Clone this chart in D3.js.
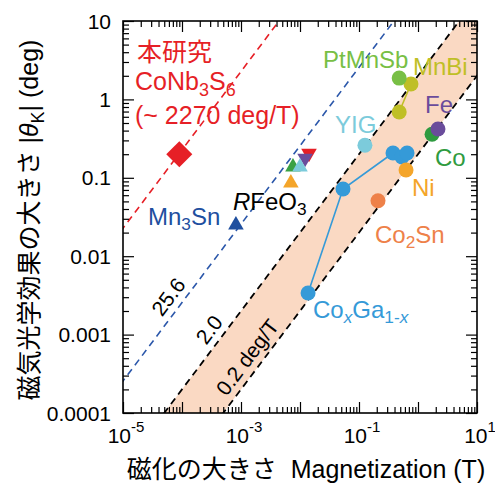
<!DOCTYPE html>
<html><head><meta charset="utf-8">
<script src="https://cdn.jsdelivr.net/npm/d3@7"></script>
<style>
body{margin:0;background:#fff}
svg{display:block}
text{font-family:"Liberation Sans","Noto Sans CJK JP",Arial,sans-serif}
</style>
</head><body>
<svg id="c" width="495" height="491"></svg>
<script>
// ---------- data ----------
const xDomain = [1e-5, 10];          // Magnetization (T)
const yDomain = [1e-4, 10];          // |theta_K| (deg)
const xTickExponents = ["-5", "-3", "-1", "1"];
const xTickLabelValues = [1e-5, 1e-3, 1e-1, 10];
const yTickValues = [1e-4, 1e-3, 1e-2, 1e-1, 1, 10];
const yTickLabels = ["0.0001", "0.001", "0.01", "0.1", "1", "10"];
const ratios = [2270, 25.6, 2.0, 0.2];       // deg/T guide lines
const bandRatios = [0.2, 2.0];
const ratioLabels = ["25.6", "2.0", "0.2 deg/T"];
const ratioLabelRatio = [25.6, 2.0, 0.2];
const ratioLabelM = [9.2e-5, 4.5e-4, 2.0e-3];

const conb3s6 = [[9e-5, 0.2]];
const ptmnsb = [[0.48, 1.87]];
const mnbi = [[0.76, 1.57], [0.48, 0.69]];
const fe = [[2.18, 0.42]];
const co = [[1.73, 0.36]];
const yig = [[0.126, 0.26]];
const coga = [[0.0137, 0.0034], [0.0536, 0.072], [0.377, 0.207], [0.536, 0.184], [0.652, 0.207]];
const ni = [[0.627, 0.126]];
const co2sn = [[0.21, 0.051]];
const rfeo3Red = [[0.0142, 0.205]];
const rfeo3Purple = [[0.0122, 0.178]];
const rfeo3Green = [[0.0076, 0.137]];
const rfeo3Cyan = [[0.0100, 0.137]];
const rfeo3Orange = [[0.0070, 0.086]];
const mn3sn = [[8.2e-4, 0.025]];

// ---------- layout ----------
const L = 123, R = 477, T = 21, B = 413;
const svg = d3.select("#c");
const x = d3.scaleLog().domain(xDomain).range([L, R]);
const y = d3.scaleLog().domain(yDomain).range([B, T]);

const C = {
  red: "#e61f26", navy: "#1f4f9f", blueLine: "#2b57aa",
  ptmnsb: "#78bf45", mnbi: "#bfbf26", fe: "#6a4c9b", co: "#2f9b40",
  yig: "#7ccbdb", coga: "#359ad8", ni: "#f4a52a", co2sn: "#ee8149",
  green: "#3aa144", band: "#fad9c3"
};

svg.append("defs").append("clipPath").attr("id", "pc")
  .append("rect").attr("x", L).attr("y", T).attr("width", R - L).attr("height", B - T);
const plot = svg.append("g").attr("clip-path", "url(#pc)");

// band
const mLo = 1e-7, mHi = 1e3;
const bandPts = [[mLo, bandRatios[0] * mLo], [mHi, bandRatios[0] * mHi], [mHi, bandRatios[1] * mHi], [mLo, bandRatios[1] * mLo]];
plot.append("path").attr("d", d3.line().x(d => x(d[0])).y(d => y(d[1]))(bandPts) + "Z")
  .attr("fill", C.band);

// ratio lines
const lineStyles = [
  {c: C.red, w: 1.6, dash: "7,5"},
  {c: C.blueLine, w: 1.6, dash: "7,5"},
  {c: "#000", w: 1.8, dash: "7,5"},
  {c: "#000", w: 1.8, dash: "7,5"}
];
ratios.forEach((k, i) => {
  const s = lineStyles[i];
  plot.append("path")
    .attr("d", d3.line().x(d => x(d)).y(d => y(k * d))([mLo, mHi]))
    .attr("stroke", s.c).attr("stroke-width", s.w).attr("stroke-dasharray", s.dash).attr("fill", "none");
});

// ---------- axes ticks (inward) ----------
const isMajor = v => Math.abs(Math.log10(v) - Math.round(Math.log10(v))) < 1e-6;
const xt = x.ticks(), yt = y.ticks();
const xMaj = xt.filter(isMajor), xMin = xt.filter(v => !isMajor(v));
const yMaj = yt.filter(isMajor), yMin = yt.filter(v => !isMajor(v));
const MAJ = 11, MIN = 6;
function addAxis(gen, tx, ty, vals, size) {
  const g = svg.append("g").attr("transform", `translate(${tx},${ty})`)
    .call(gen.tickValues(vals).tickSize(-size).tickFormat(""));
  g.select(".domain").remove();
  g.selectAll("line").attr("stroke", "#000").attr("stroke-width", 1.2);
}
[[xMaj, MAJ], [xMin, MIN]].forEach(([v, s]) => {
  addAxis(d3.axisBottom(x), 0, B, v, s);
  addAxis(d3.axisTop(x), 0, T, v, s);
});
[[yMaj, MAJ], [yMin, MIN]].forEach(([v, s]) => {
  addAxis(d3.axisLeft(y), L, 0, v, s);
  addAxis(d3.axisRight(y), R, 0, v, s);
});
svg.append("rect").attr("x", L).attr("y", T).attr("width", R - L).attr("height", B - T)
  .attr("fill", "none").attr("stroke", "#000").attr("stroke-width", 1.6);

// tick labels
yTickValues.forEach((v, i) => {
  svg.append("text").attr("x", 111).attr("y", y(v) + 7.5).attr("text-anchor", "end")
    .attr("font-size", 21).attr("fill", "#000").text(yTickLabels[i]);
});
xTickLabelValues.forEach((v, i) => {
  const t = svg.append("text").attr("x", x(v) + 3).attr("y", 443).attr("text-anchor", "middle")
    .attr("font-size", 21).attr("fill", "#000");
  t.append("tspan").text("10");
  t.append("tspan").attr("dy", -11).attr("font-size", 15).text(xTickExponents[i]);
});

// ---------- rich text helper ----------
function rich(parent, px, py, segs, size, color, anchor) {
  const t = parent.append("text").attr("x", px).attr("y", py).attr("font-size", size)
    .attr("fill", color).attr("text-anchor", anchor || "start");
  let shift = 0;
  segs.forEach(s => {
    const [txt, kind] = typeof s === "string" ? [s, "n"] : s;
    const sp = t.append("tspan").text(txt);
    let target = 0;
    if (kind.includes("b")) { target = size * 0.22; sp.attr("font-size", size * 0.72); }
    if (kind.includes("i")) sp.attr("font-style", "italic");
    if (target !== shift) { sp.attr("dy", target - shift); shift = target; }
  });
  return t;
}

// axis titles
rich(svg, 306, 478, ["磁化の大きさ", ["\u00a0\u00a0Magnetization (T)", "n"]], 25, "#000", "middle");
const yt2 = rich(svg, 0, 0, ["磁気光学効果の大きさ |", ["θ", "i"], ["K", "b"], "| (deg)"], 25, "#000", "middle");
yt2.attr("transform", "translate(38,220) rotate(-90)");

// ---------- markers ----------
const mk = plot.append("g");
function lineOf(data, color) {
  mk.append("path").attr("d", d3.line().x(d => x(d[0])).y(d => y(d[1]))(data))
    .attr("fill", "none").attr("stroke", color).attr("stroke-width", 1.6);
}
function circles(data, color) {
  mk.selectAll(null).data(data).join("circle")
    .attr("cx", d => x(d[0])).attr("cy", d => y(d[1])).attr("r", 7.5).attr("fill", color);
}
function tri(data, color, down) {
  mk.selectAll(null).data(data).join("path")
    .attr("d", d3.symbol().type(d3.symbolTriangle).size(105)())
    .attr("transform", d => `translate(${x(d[0])},${y(d[1])})${down ? " rotate(180)" : ""}`)
    .attr("fill", color);
}
lineOf(coga, C.coga);
lineOf(mnbi, C.mnbi);
circles(co2sn, C.co2sn);
circles(coga, C.coga);
circles(ni, C.ni);
circles(yig, C.yig);
circles(mnbi, C.mnbi);
circles(ptmnsb, C.ptmnsb);
circles(co, C.co);
circles(fe, C.fe);
tri(rfeo3Red, C.red, true);
tri(rfeo3Purple, C.fe, true);
tri(rfeo3Green, C.green, false);
tri(rfeo3Cyan, C.yig, false);
tri(rfeo3Orange, C.ni, false);
tri(mn3sn, C.navy, false);
mk.selectAll(null).data(conb3s6).join("path")
  .attr("d", d3.symbol().type(d3.symbolSquare).size(340)())
  .attr("transform", d => `translate(${x(d[0])},${y(d[1])}) rotate(45)`)
  .attr("fill", C.red);

// ---------- labels ----------
const lab = svg.append("g");
rich(lab, 137, 61, ["本研究"], 25, C.red);
rich(lab, 135, 90, ["CoNb", ["3", "b"], "S", ["6", "b"]], 25, C.red);
rich(lab, 135, 124, ["(~ 2270 deg/T)"], 25, C.red);
rich(lab, 323, 68, ["PtMnSb"], 24, C.ptmnsb);
rich(lab, 413, 75, ["MnBi"], 24, C.mnbi);
rich(lab, 425, 113, ["Fe"], 24, C.fe);
rich(lab, 335, 133, ["YIG"], 24, C.yig);
rich(lab, 435, 166, ["Co"], 24, C.co);
rich(lab, 412, 196, ["Ni"], 24, C.ni);
rich(lab, 375, 243, ["Co", ["2", "b"], "Sn"], 24, C.co2sn);
rich(lab, 313, 318, ["Co", ["x", "bi"], "Ga", ["1-", "b"], ["x", "bi"]], 24, C.coga);
rich(lab, 233, 210, [["R", "i"], "FeO", ["3", "b"]], 24, "#000");
rich(lab, 148, 225, ["Mn", ["3", "b"], "Sn"], 24, C.navy);

// ratio labels along the lines
const ang = Math.atan2(y(1e-2) - y(1e-3), x(1e-2) - x(1e-3)) * 180 / Math.PI; // negative
ratioLabels.forEach((s, i) => {
  const m = ratioLabelM[i], k = ratioLabelRatio[i];
  lab.append("text")
    .attr("transform", `translate(${x(m)},${y(k * m)}) rotate(${ang})`)
    .attr("x", 0).attr("y", -7).attr("text-anchor", "middle")
    .attr("font-size", 21).attr("fill", "#000").text(s);
});
</script>
</body></html>
